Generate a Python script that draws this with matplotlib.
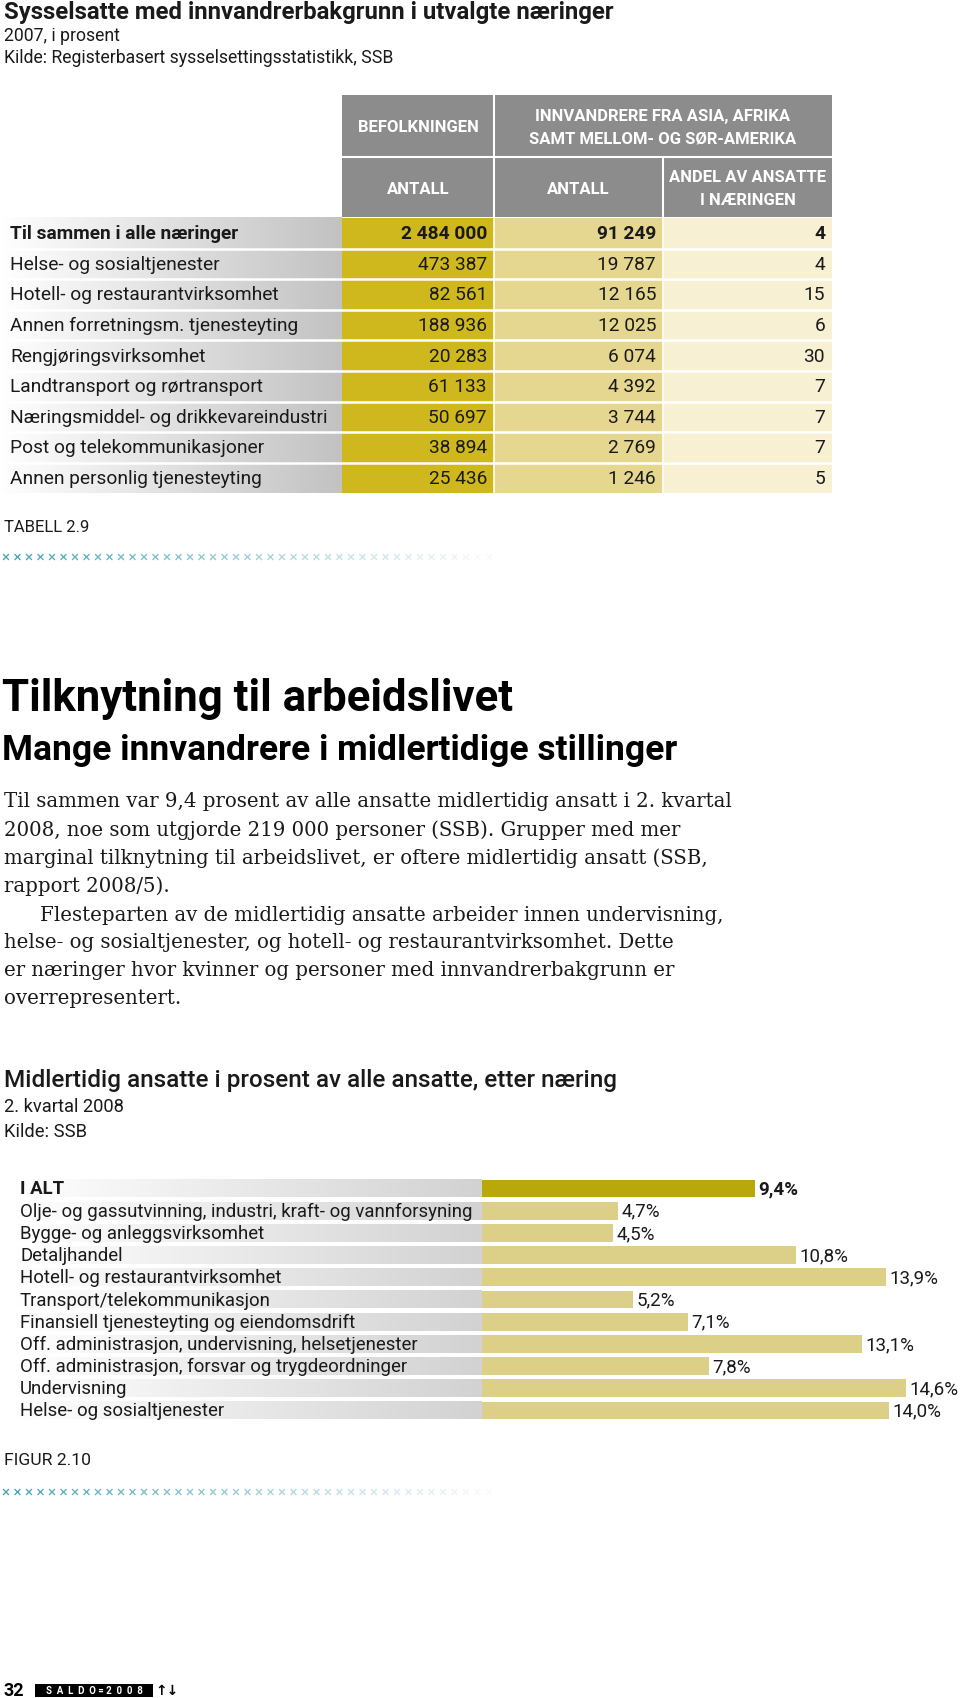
import matplotlib
matplotlib.use("Agg")
import matplotlib.pyplot as plt
import numpy as np
from matplotlib.colors import LinearSegmentedColormap
from matplotlib.patches import Rectangle

plt.rcParams['font.family'] = ['Roboto', 'DejaVu Sans']

# ---- table data (Tabell 2.9)
table_rows = ["Til sammen i alle næringer", "Helse- og sosialtjenester",
              "Hotell- og restaurantvirksomhet", "Annen forretningsm. tjenesteyting",
              "Rengjøringsvirksomhet", "Landtransport og rørtransport",
              "Næringsmiddel- og drikkevareindustri", "Post og telekommunikasjoner",
              "Annen personlig tjenesteyting"]
befolkning = [2484000, 473387, 82561, 188936, 20283, 61133, 50697, 38894, 25436]
innv_antall = [91249, 19787, 12165, 12025, 6074, 4392, 3744, 2769, 1246]
innv_andel = [4, 4, 15, 6, 30, 7, 7, 7, 5]

# ---- bar data (Figur 2.10)
bar_labels = ["I ALT", "Olje- og gassutvinning, industri, kraft- og vannforsyning",
              "Bygge- og anleggsvirksomhet", "Detaljhandel",
              "Hotell- og restaurantvirksomhet", "Transport/telekommunikasjon",
              "Finansiell tjenesteyting og eiendomsdrift",
              "Off. administrasjon, undervisning, helsetjenester",
              "Off. administrasjon, forsvar og trygdeordninger",
              "Undervisning", "Helse- og sosialtjenester"]
bar_values = [9.4, 4.7, 4.5, 10.8, 13.9, 5.2, 7.1, 13.1, 7.8, 14.6, 14.0]

body_lines = [
    "Til sammen var 9,4 prosent av alle ansatte midlertidig ansatt i 2. kvartal",
    "2008, noe som utgjorde 219 000 personer (SSB). Grupper med mer",
    "marginal tilknytning til arbeidslivet, er oftere midlertidig ansatt (SSB,",
    "rapport 2008/5).",
    "Flesteparten av de midlertidig ansatte arbeider innen undervisning,",
    "helse- og sosialtjenester, og hotell- og restaurantvirksomhet. Dette",
    "er næringer hvor kvinner og personer med innvandrerbakgrunn er",
    "overrepresentert.",
]

W, H = 960, 1699
fig = plt.figure(figsize=(W / 100, H / 100), dpi=100)
lay = fig.add_axes([0, 0, 1, 1])
lay.set_xlim(0, W)
lay.set_ylim(H, 0)
lay.axis("off")

TXT = "#1a1a1a"
HEAD = "#8c8c8c"
C1, C2, C3 = "#cfb81e", "#e6d790", "#f7f0d3"


def fmt(v):
    return f"{v:,}".replace(",", " ")


# ---- titles
lay.text(4, 12, "Sysselsatte med innvandrerbakgrunn i utvalgte næringer",
         fontsize=17.2, fontweight="bold", color=TXT, va="center")
lay.text(4, 36, "2007, i prosent", fontsize=12.7, color=TXT, va="center")
lay.text(4, 58, "Kilde: Registerbasert sysselsettingsstatistikk, SSB",
         fontsize=12.7, color=TXT, va="center")

# ---- table
x0, x1, x2, x3 = 342, 494, 663, 832
lay.add_patch(Rectangle((x0, 96), x3 - x0, 122, color=HEAD, lw=0))
lay.plot([x1, x1], [96, 218], color="white", lw=1.5)
lay.plot([x0, x3], [157.5, 157.5], color="white", lw=1.5)
lay.plot([x2, x2], [157.5, 218], color="white", lw=1.5)
hkw = dict(color="white", fontsize=12, fontweight="bold", ha="center", va="center")
lay.text((x0 + x1) / 2, 127, "BEFOLKNINGEN", **hkw)
lay.text((x1 + x3) / 2, 128, "INNVANDRERE FRA ASIA, AFRIKA\nSAMT MELLOM- OG SØR-AMERIKA",
         linespacing=1.6, **hkw)
lay.text((x0 + x1) / 2, 189, "ANTALL", **hkw)
lay.text((x1 + x2) / 2, 189, "ANTALL", **hkw)
lay.text((x2 + x3) / 2, 189, "ANDEL AV ANSATTE\nI NÆRINGEN", linespacing=1.6, **hkw)

top, rh = 219, 30.6
n = len(table_rows)
gray_cm = LinearSegmentedColormap.from_list("g", ["#ffffff", "#c2c2c2"])
grad = np.linspace(0, 1, 256).reshape(1, -1)
lay.imshow(grad, cmap=gray_cm, extent=(0, x0, top + rh * n, top), aspect="auto", zorder=0)
lay.add_patch(Rectangle((x0, top), x1 - x0, rh * n, color=C1, lw=0))
lay.add_patch(Rectangle((x1, top), x2 - x1, rh * n, color=C2, lw=0))
lay.add_patch(Rectangle((x2, top), x3 - x2, rh * n, color=C3, lw=0))
lay.plot([x1, x1], [top, top + rh * n], color="white", lw=1.2)
lay.plot([x2, x2], [top, top + rh * n], color="white", lw=1.2)
for i in range(1, n):
    lay.plot([0, x3], [top + rh * i, top + rh * i], color="white", lw=1.8)

fs = 13.8
for i, name in enumerate(table_rows):
    y = top + rh * (i + 0.5)
    w = "bold" if i == 0 else "normal"
    lay.text(10, y, name, fontsize=fs, fontweight=w, color=TXT, va="center")
    lay.text(x1 - 7, y, fmt(befolkning[i]), fontsize=fs, fontweight=w, color=TXT,
             va="center", ha="right")
    lay.text(x2 - 7, y, fmt(innv_antall[i]), fontsize=fs, fontweight=w, color=TXT,
             va="center", ha="right")
    lay.text(x3 - 7, y, str(innv_andel[i]), fontsize=fs, fontweight=w, color=TXT,
             va="center", ha="right")

lay.text(4, 528, "TABELL 2.9", fontsize=12, color=TXT, va="center")


def crosses(y):
    xs = 6 + 11.5 * np.arange(43)
    al = np.linspace(1, 0.04, len(xs))
    cols = [(0.29, 0.65, 0.72, a) for a in al]
    lay.scatter(xs, np.full(len(xs), y), marker="x", s=18, c=cols, linewidths=1.0)


crosses(558)

# ---- article text
lay.text(2, 699, "Tilknytning til arbeidslivet", fontsize=31.5, fontweight="bold",
         color="black", va="center")
lay.text(2, 751, "Mange innvandrere i midlertidige stillinger", fontsize=25.5,
         fontweight="bold", color="black", va="center")
ys = [802, 830, 858, 886, 916, 943, 971, 999]
for i, (yy, line) in enumerate(zip(ys, body_lines)):
    lay.text(40 if i == 4 else 4, yy, line, fontsize=14.2, family="DejaVu Serif",
             color=TXT, va="center")

# ---- bar chart
lay.text(4, 1081, "Midlertidig ansatte i prosent av alle ansatte, etter næring",
         fontsize=17.5, fontweight="medium", color=TXT, va="center")
lay.text(4, 1107, "2. kvartal 2008", fontsize=13.2, color=TXT, va="center")
lay.text(4, 1132, "Kilde: SSB", fontsize=13.2, color=TXT, va="center")

px_per = 29.04
bx0 = 482
ytop = 1189.5 - 11.1
ybot = 1189.5 + 22.2 * 10 + 11.1
nb = len(bar_values)
ax = fig.add_axes([bx0 / W, 1 - ybot / H, (W - bx0) / W, (ybot - ytop) / H])
ax.set_xlim(0, (W - bx0) / px_per)
ax.set_ylim(nb - 0.5, -0.5)
ax.axis("off")
cols = ["#b9a80a"] + ["#dcd088"] * (nb - 1)
ax.barh(range(nb), bar_values, height=0.8, color=cols, lw=0)
for i, v in enumerate(bar_values):
    ax.text(v + 0.12, i, f"{v:.1f}".replace(".", ",") + "%", fontsize=13.5,
            fontweight="bold" if i == 0 else "normal", color=TXT, va="center")

lab = fig.add_axes([15 / W, 1 - ybot / H, (bx0 - 15) / W, (ybot - ytop) / H])
band_cm = LinearSegmentedColormap.from_list("b", ["#ffffff", "#d2d2d2"])
for i in range(nb):
    lab.imshow(grad, cmap=band_cm, extent=(0, 1, i + 0.4, i - 0.4), aspect="auto")
lab.set_xlim(0, 1)
lab.set_ylim(nb - 0.5, -0.5)
lab.axis("off")
for i, name in enumerate(bar_labels):
    lab.text(5 / (bx0 - 15), i, name, fontsize=13.4,
             fontweight="bold" if i == 0 else "normal", color=TXT, va="center")

lay.text(4, 1461, "FIGUR 2.10", fontsize=12.6, color=TXT, va="center")
crosses(1493)

# ---- footer
lay.text(3, 1691, "32", fontsize=13, fontweight="bold", color="black", va="center")
lay.add_patch(Rectangle((35, 1685), 118, 13, color="black", lw=0))
lay.text(94, 1691.5, "S  A  L  D  O = 2  0  0  8", fontsize=7, fontweight="bold",
         color="white", ha="center", va="center")
lay.text(155, 1691, "↑↓", fontsize=10, fontweight="bold", family=["DejaVu Sans"],
         color="black", va="center")

fig.savefig("out.png", dpi=100)
